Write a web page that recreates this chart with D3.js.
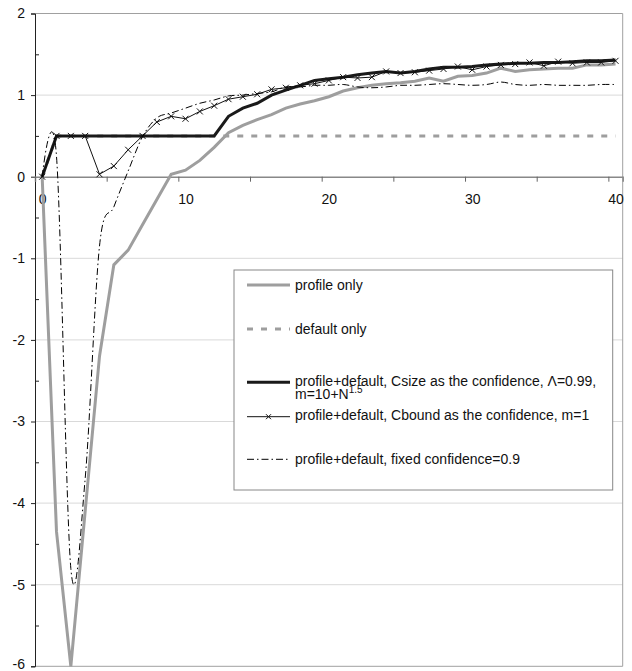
<!DOCTYPE html>
<html>
<head>
<meta charset="utf-8">
<script src="https://cdn.jsdelivr.net/npm/d3@7"></script>
<style>
  body { margin: 0; background: #fff; }
  text { font-family: "Liberation Sans", Arial, sans-serif; fill: #111; }
</style>
</head>
<body>
<div id="chart"></div>
<script>
// categories 0..40 (number of ratings)
const categories = d3.range(0, 41);

const profileOnly = [0, -4.35, -6.0, -4.1, -2.2, -1.08, -0.9, -0.59, -0.28, 0.03,
  0.08, 0.2, 0.36, 0.54, 0.63, 0.7, 0.76, 0.84, 0.89, 0.93,
  0.98, 1.05, 1.09, 1.12, 1.14, 1.15, 1.17, 1.21, 1.17, 1.23,
  1.24, 1.27, 1.33, 1.29, 1.31, 1.32, 1.33, 1.33, 1.37, 1.37, 1.38];

const defaultOnly = [0, 0.5, 0.5, 0.5, 0.5, 0.5, 0.5, 0.5, 0.5, 0.5,
  0.5, 0.5, 0.5, 0.5, 0.5, 0.5, 0.5, 0.5, 0.5, 0.5,
  0.5, 0.5, 0.5, 0.5, 0.5, 0.5, 0.5, 0.5, 0.5, 0.5,
  0.5, 0.5, 0.5, 0.5, 0.5, 0.5, 0.5, 0.5, 0.5, 0.5, 0.5];

const csize = [0, 0.5, 0.5, 0.5, 0.5, 0.5, 0.5, 0.5, 0.5, 0.5,
  0.5, 0.5, 0.5, 0.74, 0.84, 0.9, 1.0, 1.06, 1.12, 1.18,
  1.2, 1.22, 1.25, 1.27, 1.29, 1.27, 1.29, 1.32, 1.34, 1.34,
  1.35, 1.37, 1.38, 1.39, 1.39, 1.4, 1.4, 1.41, 1.42, 1.42, 1.43];

const cbound = [0, 0.5, 0.5, 0.5, 0.03, 0.13, 0.33, 0.5, 0.67, 0.74,
  0.71, 0.8, 0.87, 0.95, 0.98, 1.01, 1.07, 1.09, 1.12, 1.14,
  1.18, 1.22, 1.21, 1.22, 1.29, 1.27, 1.28, 1.3, 1.32, 1.35,
  1.31, 1.35, 1.37, 1.38, 1.4, 1.36, 1.41, 1.39, 1.4, 1.4, 1.42];

const fixedConf = [0, 0.25, -4.8, -3.7, -0.85, -0.37, 0.07, 0.49, 0.72, 0.78,
  0.84, 0.9, 0.94, 0.99, 1.0, 1.02, 1.04, 1.1, 1.1, 1.12,
  1.12, 1.13, 1.1, 1.09, 1.1, 1.12, 1.12, 1.13, 1.14, 1.13,
  1.12, 1.13, 1.16, 1.13, 1.12, 1.13, 1.12, 1.12, 1.12, 1.13, 1.13];

const yTicks = [-6, -5, -4, -3, -2, -1, 0, 1, 2];
const xLabels = [0, 10, 20, 30, 40];

const W = 632, H = 671;
const plotL = 35, plotR = 622.7, plotT = 13.5, plotB = 666.3;

const svg = d3.select("#chart").append("svg")
  .attr("width", W).attr("height", H);

// category k sits in the middle of its slot
const x = d3.scaleLinear().domain([-0.5, 40.5]).range([plotL, plotR]);
const y = d3.scaleLinear().domain([-6, 2]).range([plotB, plotT]);

// gridlines
svg.append("g").selectAll("line")
  .data(yTicks.filter(d => d !== 0 && d !== 2 && d !== -6))
  .enter().append("line")
  .attr("x1", plotL).attr("x2", plotR)
  .attr("y1", d => y(d)).attr("y2", d => y(d))
  .attr("stroke", "#d9d9d9").attr("stroke-width", 1);

// plot border (top / right / bottom)
svg.append("path")
  .attr("d", `M${plotL},${y(2)}H${plotR}V${y(-6)}H${plotL}`)
  .attr("fill", "none").attr("stroke", "#a0a0a0").attr("stroke-width", 1);

// y axis
const yAxis = svg.append("g")
  .attr("transform", `translate(${plotL},0)`)
  .call(d3.axisLeft(y).tickValues(yTicks).tickSize(4).tickPadding(6)
    .tickFormat(d => String(d)));
yAxis.select(".domain").attr("stroke", "#222");
yAxis.selectAll(".tick line").attr("stroke", "#222");
yAxis.selectAll("text").style("font-size", "14px").attr("fill", "#111")
  .attr("dy", d => d === -6 ? "0.15em" : "0.32em");

// minor ticks on y (inside)
svg.append("g").attr("transform", `translate(${plotL},0)`)
  .call(d3.axisRight(y).tickValues(d3.range(-5.5, 2, 1)).tickSize(4).tickFormat(""))
  .call(g => g.select(".domain").remove())
  .selectAll("line").attr("stroke", "#222");

// x axis at zero: ticks between categories every 5
const xAxis = svg.append("g")
  .attr("transform", `translate(0,${y(0)})`)
  .call(d3.axisBottom(x).tickValues(d3.range(-0.5, 40, 5)).tickSize(5).tickFormat(""));
xAxis.select(".domain").attr("stroke", "#888").attr("stroke-width", 1.5);
xAxis.selectAll(".tick line").attr("stroke", "#666");

const xLab = svg.append("g")
  .attr("transform", `translate(0,${y(0)})`)
  .call(d3.axisBottom(x).tickValues(xLabels).tickSize(0).tickPadding(17)
    .tickFormat(d => String(d)));
xLab.select(".domain").remove();
xLab.selectAll("text").style("font-size", "14px").attr("fill", "#111");

// series
const straight = d3.line().x((d, i) => x(categories[i])).y(d => y(d));
const smooth = d3.line().x((d, i) => x(categories[i])).y(d => y(d))
  .curve(d3.curveCardinal.tension(0));

const series = [
  { name: "profile only", values: profileOnly, color: "#9e9e9e", width: 3, dash: null, line: straight },
  { name: "default only", values: defaultOnly, color: "#9e9e9e", width: 3, dash: "6,8", line: straight },
  { name: "csize", values: csize, color: "#1a1a1a", width: 3, dash: null, line: straight },
  { name: "cbound", values: cbound, color: "#111", width: 1, dash: null, line: straight, marker: true },
  { name: "fixed", values: fixedConf, color: "#000", width: 1, dash: "7,3,1.5,3", line: smooth }
];

const xMark = "M-3,-3L3,3M-3,3L3,-3";

series.forEach(s => {
  svg.append("path")
    .datum(s.values)
    .attr("fill", "none")
    .attr("stroke", s.color)
    .attr("stroke-width", s.width)
    .attr("stroke-dasharray", s.dash)
    .attr("stroke-linejoin", "miter")
    .attr("d", s.line);
  if (s.marker) {
    svg.append("g").selectAll("path")
      .data(s.values)
      .enter().append("path")
      .attr("transform", (d, i) => `translate(${x(categories[i])},${y(d)})`)
      .attr("d", xMark)
      .attr("fill", "none")
      .attr("stroke", s.color)
      .attr("stroke-width", 1);
  }
});

// legend
const lg = svg.append("g");
lg.append("rect")
  .attr("x", 234).attr("y", 270).attr("width", 378.7).attr("height", 220)
  .attr("fill", "#fff").attr("stroke", "#888").attr("stroke-width", 1);

const legendItems = [
  { s: series[0], ly: 285, ty: 289.5, text: "profile only" },
  { s: series[1], ly: 329, ty: 334, text: "default only" },
  { s: series[2], ly: 382.3, ty: 385.5, text: "profile+default, Csize as the confidence, \u039B=0.99," },
  { s: series[3], ly: 416.7, ty: 420, text: "profile+default, Cbound as the confidence, m=1" },
  { s: series[4], ly: 459.3, ty: 464, text: "profile+default, fixed confidence=0.9" }
];

legendItems.forEach(it => {
  lg.append("line")
    .attr("x1", 247).attr("x2", 290)
    .attr("y1", it.ly).attr("y2", it.ly)
    .attr("stroke", it.s.color)
    .attr("stroke-width", it.s.width)
    .attr("stroke-dasharray", it.s.dash);
  if (it.s.marker) {
    lg.append("path")
      .attr("transform", `translate(268.5,${it.ly})`)
      .attr("d", "M-2.5,-2.5L2.5,2.5M-2.5,2.5L2.5,-2.5")
      .attr("stroke", it.s.color).attr("fill", "none");
  }
  lg.append("text")
    .attr("x", 295).attr("y", it.ty)
    .style("font-size", "14px")
    .text(it.text);
});

const l2 = lg.append("text")
  .attr("x", 295).attr("y", 399)
  .style("font-size", "14px");
l2.append("tspan").text("m=10+N");
l2.append("tspan").attr("dy", -6).style("font-size", "10px").text("1.5");
</script>
</body>
</html>
